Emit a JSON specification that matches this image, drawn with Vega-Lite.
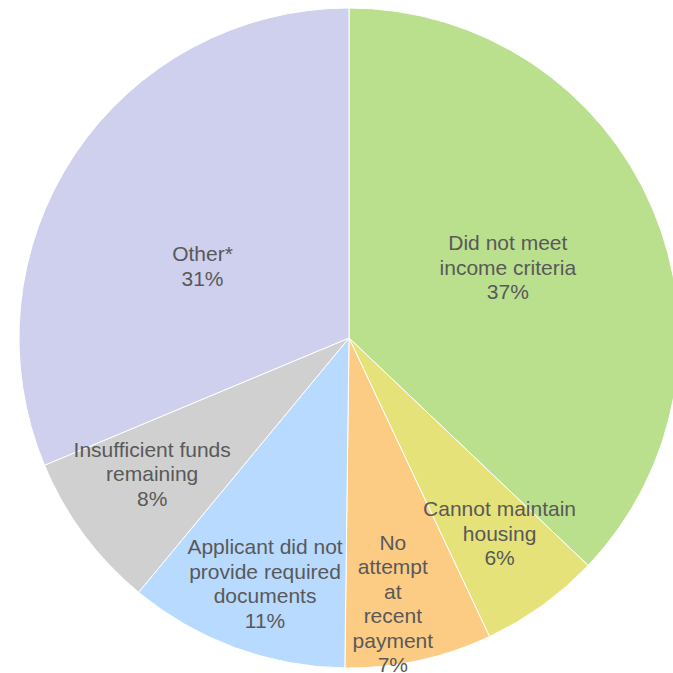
{
  "$schema": "https://vega.github.io/schema/vega-lite/v6.json",
  "width": 673,
  "height": 673,
  "autosize": "none",
  "padding": 0,
  "background": "white",
  "view": {"stroke": null},
  "data": {
    "values": [
      {"idx": 1, "category": "Did not meet income criteria", "pct": 37.1, "label": "Did not meet\nincome criteria\n37%"},
      {"idx": 2, "category": "Cannot maintain housing", "pct": 5.9, "label": "Cannot maintain\nhousing\n6%"},
      {"idx": 3, "category": "No attempt at recent payment", "pct": 7.2, "label": "No\nattempt\nat\nrecent\npayment\n7%"},
      {"idx": 4, "category": "Applicant did not provide required documents", "pct": 10.8, "label": "Applicant did not\nprovide required\ndocuments\n11%"},
      {"idx": 5, "category": "Insufficient funds remaining", "pct": 7.7, "label": "Insufficient funds\nremaining\n8%"},
      {"idx": 6, "category": "Other*", "pct": 31.3, "label": "Other*\n31%"}
    ]
  },
  "encoding": {
    "theta": {"field": "pct", "type": "quantitative", "stack": true},
    "order": {"field": "idx", "type": "quantitative"}
  },
  "layer": [
    {
      "mark": {"type": "arc", "outerRadius": 330, "x": 349, "y": 338, "stroke": "white", "strokeWidth": 1},
      "encoding": {
        "color": {
          "field": "category",
          "type": "nominal",
          "legend": null,
          "sort": null,
          "scale": {
            "domain": ["Did not meet income criteria", "Cannot maintain housing", "No attempt at recent payment", "Applicant did not provide required documents", "Insufficient funds remaining", "Other*"],
            "range": ["#BAE08E", "#E6E27A", "#FDCC84", "#B8DAFF", "#D0D0D0", "#CFCFEE"]
          }
        }
      }
    },
    {
      "mark": {"type": "text", "radius": 175, "x": 349, "y": 338, "dx": -2, "dy": -25, "font": "Liberation Sans", "fontSize": 21, "lineHeight": 24.5, "fill": "#595959", "align": "center", "baseline": "middle", "lineBreak": "\n"},
      "encoding": {"text": {"condition": {"test": "datum.idx === 1", "field": "label"}, "value": ""}}
    },
    {
      "mark": {"type": "text", "radius": 247, "x": 349, "y": 338, "dx": 6, "dy": -28, "font": "Liberation Sans", "fontSize": 21, "lineHeight": 24.5, "fill": "#595959", "align": "center", "baseline": "middle", "lineBreak": "\n"},
      "encoding": {"text": {"condition": {"test": "datum.idx === 2", "field": "label"}, "value": ""}}
    },
    {
      "mark": {"type": "text", "radius": 268, "x": 349, "y": 338, "dx": -13, "dy": -56, "font": "Liberation Sans", "fontSize": 21, "lineHeight": 24.5, "fill": "#595959", "align": "center", "baseline": "middle", "lineBreak": "\n"},
      "encoding": {"text": {"condition": {"test": "datum.idx === 3", "field": "label"}, "value": ""}}
    },
    {
      "mark": {"type": "text", "radius": 261, "x": 349, "y": 338, "dx": 6, "dy": -35, "font": "Liberation Sans", "fontSize": 21, "lineHeight": 24.5, "fill": "#595959", "align": "center", "baseline": "middle", "lineBreak": "\n"},
      "encoding": {"text": {"condition": {"test": "datum.idx === 4", "field": "label"}, "value": ""}}
    },
    {
      "mark": {"type": "text", "radius": 240, "x": 349, "y": 338, "dx": -4, "dy": -30, "font": "Liberation Sans", "fontSize": 21, "lineHeight": 24.5, "fill": "#595959", "align": "center", "baseline": "middle", "lineBreak": "\n"},
      "encoding": {"text": {"condition": {"test": "datum.idx === 5", "field": "label"}, "value": ""}}
    },
    {
      "mark": {"type": "text", "radius": 164, "x": 349, "y": 338, "dx": -10, "dy": 8, "font": "Liberation Sans", "fontSize": 21, "lineHeight": 24.5, "fill": "#595959", "align": "center", "baseline": "middle", "lineBreak": "\n"},
      "encoding": {"text": {"condition": {"test": "datum.idx === 6", "field": "label"}, "value": ""}}
    }
  ]
}
